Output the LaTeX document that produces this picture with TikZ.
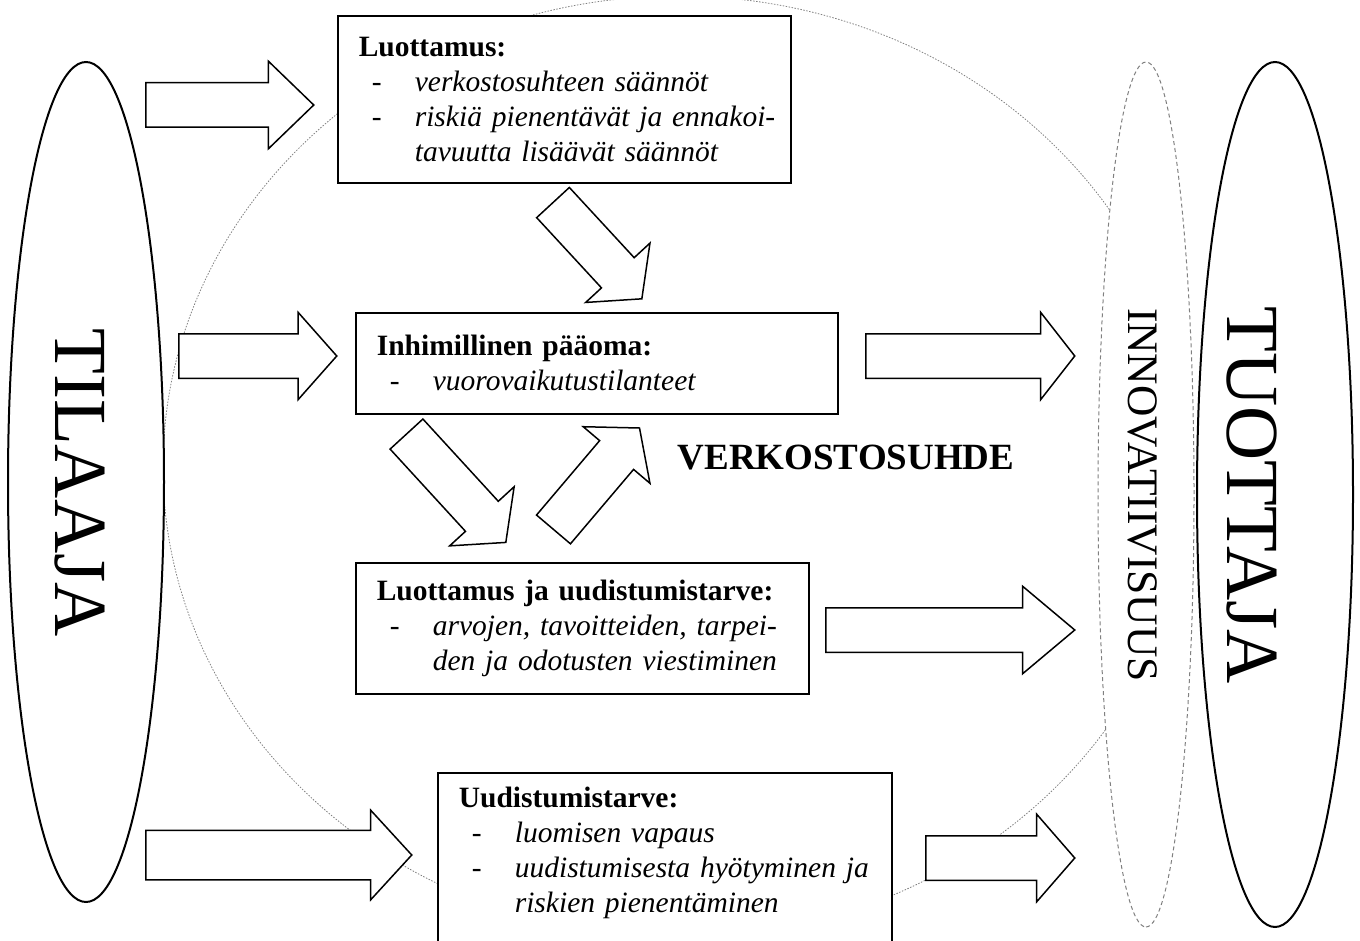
\documentclass[tikz,border=0pt]{standalone}
\usepackage{fontspec}
\setmainfont{Liberation Serif}
\usetikzlibrary{shapes.geometric,shapes.arrows}

\newcommand{\kohta}[1]{\makebox[56pt][l]{\hspace{13pt}-}\mbox{\textit{#1}}}
\newcommand{\jatko}[1]{\hspace*{56pt}\mbox{\textit{#1}}}

\tikzset{
  laatikko/.style={draw, line width=1.6pt, fill=white, anchor=north west, align=left, inner xsep=21pt, inner ysep=0pt, font=\fontsize{29.5}{35}\selectfont},
  toimija/.style={ellipse, draw, line width=2pt, fill=white, inner sep=0pt, rotate=-90},
  isoteksti/.style={rotate=-90, inner sep=0pt, font=\fontsize{75}{80}\selectfont},
  nuoli/.style={single arrow, draw, line width=1.5pt, fill=white, inner xsep=0pt, inner ysep=21.5pt, anchor=tail, single arrow head extend=21.5pt},
  verkostoraja/.style={draw=gray, line width=0.8pt, dash pattern=on 1.5pt off 1.5pt},
}

\begin{document}
\begin{tikzpicture}[x=1pt,y=-1pt]
\useasboundingbox (0,0) rectangle (1360,941);
\clip (0,0) rectangle (1360,941);
\draw[verkostoraja] (678,467) ellipse [x radius=515, y radius=471];
\node[toimija, draw=gray, line width=1pt, dash pattern=on 4pt off 3pt, minimum width=865pt, minimum height=96pt] (innovatiivisuus) at (1146,494.5) {};
\node[toimija, minimum width=840pt, minimum height=156pt] (tilaaja) at (86,482) {};
\node[toimija, minimum width=865pt, minimum height=156pt] (tuottaja) at (1275,494.5) {};
\node[isoteksti] (tilaajateksti) at (80,482.5) {TILAAJA};
\node[isoteksti] (tuottajateksti) at (1252,495) {TUOTTAJA};
\node[isoteksti, font=\fontsize{43.5}{46}\selectfont] (innovteksti) at (1143,495) {INNOVATIIVISUUS};
\node[laatikko, text width=411pt, minimum height=167pt] (luottamus) at (337,15) {\textbf{Luottamus:}\\ \kohta{verkostosuhteen säännöt}\\ \kohta{riskiä pienentävät ja ennakoi-}\\ \jatko{tavuutta lisäävät säännöt}};
\node[laatikko, text width=440pt, minimum height=101pt] (paaoma) at (355,312) {\textbf{Inhimillinen pääoma:}\\ \kohta{vuorovaikutustilanteet}};
\node[laatikko, text width=411pt, minimum height=131pt] (luottamusuud) at (355,562) {\textbf{Luottamus ja uudistumistarve:}\\ \kohta{arvojen, tavoitteiden, tarpei-}\\ \jatko{den ja odotusten viestiminen}};
\node[laatikko, text width=412pt, inner ysep=14pt, text depth=190pt] (uudistumis) at (437,772) {\textbf{Uudistumistarve:}\\ \kohta{luomisen vapaus}\\ \kohta{uudistumisesta hyötyminen ja}\\ \jatko{riskien pienentäminen}};
\node[nuoli, minimum height=168pt, single arrow tip angle=88] (n1) at (145,105) {};
\node[nuoli, minimum height=158pt, single arrow tip angle=97] (n2) at (178,356) {};
\node[nuoli, minimum height=209pt, single arrow tip angle=104] (n3) at (865,356) {};
\node[nuoli, minimum height=249pt, single arrow tip angle=80] (n4) at (825,630) {};
\node[nuoli, minimum height=266pt, inner ysep=24pt, single arrow head extend=20pt, single arrow tip angle=95] (n5) at (145,855) {};
\node[nuoli, minimum height=149pt, single arrow tip angle=98] (n6) at (925,858) {};
\node[nuoli, minimum height=131pt, single arrow tip angle=102, rotate=-47.3] (v1) at (552.5,202) {};
\node[nuoli, minimum height=147pt, single arrow tip angle=102, rotate=-47.5] (v2) at (406,433.5) {};
\node[nuoli, minimum height=133pt, single arrow tip angle=102, rotate=49.7] (v3) at (553,530) {};
\node[font=\fontsize{37}{40}\selectfont\bfseries] (verkosto) at (846,458) {VERKOSTOSUHDE};
\end{tikzpicture}
\end{document}
